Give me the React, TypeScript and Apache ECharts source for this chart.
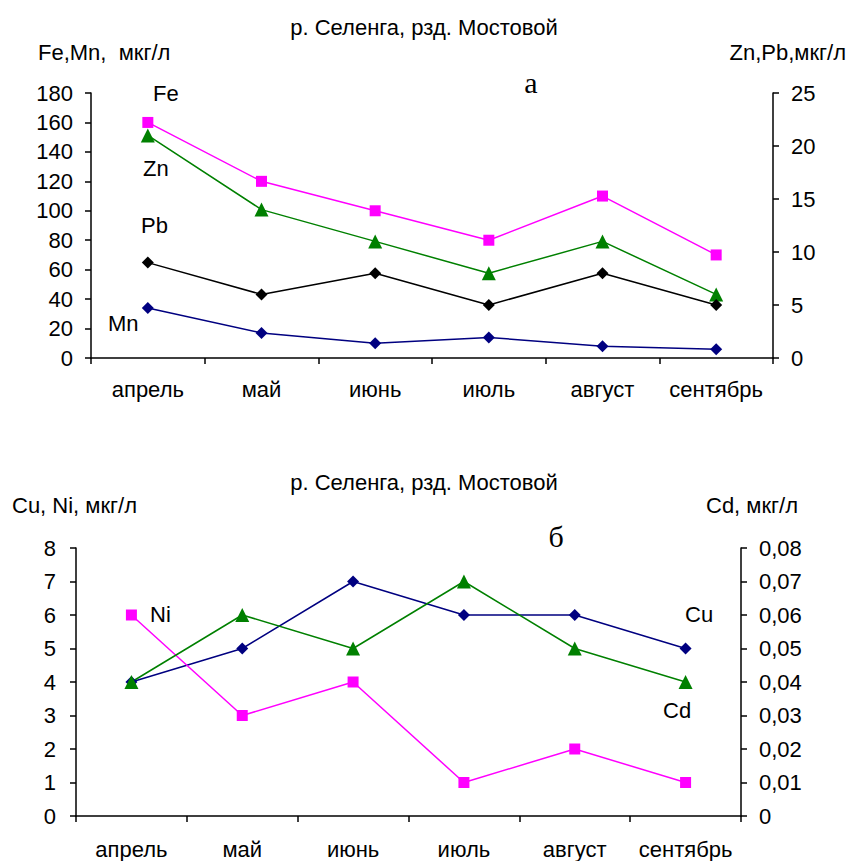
import React, { useEffect, useRef } from "react";
import * as echarts from "echarts";

const months = ["апрель", "май", "июнь", "июль", "август", "сентябрь"];
// panel а
const fe = [160, 120, 100, 80, 110, 70];
const mn = [34, 17, 10, 14, 8, 6];
const zn = [21, 14, 11, 8, 11, 6];
const pb = [9, 6, 8, 5, 8, 5];
// panel б
const cu = [4, 5, 7, 6, 6, 5];
const ni = [6, 3, 4, 1, 2, 1];
const cd = [0.04, 0.06, 0.05, 0.07, 0.05, 0.04];

const titleText = "р. Селенга, рзд. Мостовой";
const FONT = "'Liberation Sans', Arial, sans-serif";
const SERIF = "'Liberation Serif', 'Times New Roman', serif";
const FS = 22;

export default function App() {
  const ref = useRef<HTMLDivElement>(null);
  useEffect(() => {
    if (!ref.current) return;
    const chart = echarts.init(ref.current, undefined, { renderer: "svg" });
    const axisLine = { show: true, lineStyle: { color: "#000", width: 1.5 } };
    const axisTick = { show: true, inside: false, length: 6, lineStyle: { color: "#000", width: 1.5 } };
    const lbl = { color: "#000", fontSize: FS, fontFamily: FONT };
    const xAxisBase = (gridIndex: number, margin: number) => ({
      type: "category",
      gridIndex,
      data: months,
      boundaryGap: true,
      axisLine,
      axisTick: { ...axisTick, alignWithLabel: false },
      axisLabel: { ...lbl, margin, interval: 0 },
      splitLine: { show: false },
    });
    const yAxisBase = (
      gridIndex: number,
      position: string,
      min: number,
      max: number,
      interval: number,
      margin: number,
      formatter?: any
    ) => ({
      type: "value",
      gridIndex,
      position,
      min,
      max,
      interval,
      axisLine,
      axisTick,
      axisLabel: { ...lbl, margin, formatter },
      splitLine: { show: false },
    });
    const line = (
      name: string,
      data: number[],
      color: string,
      symbol: string,
      symbolSize: number,
      xAxisIndex: number,
      yAxisIndex: number
    ) => ({
      type: "line",
      name,
      data,
      xAxisIndex,
      yAxisIndex,
      symbol,
      symbolSize,
      showAllSymbol: true,
      itemStyle: { color },
      lineStyle: { color, width: 1.5 },
      emphasis: { disabled: true },
    });
    const txt = (text: string, x: number, y: number, extra: any = {}) => ({
      type: "text",
      x,
      y,
      style: {
        text,
        fill: "#000",
        font: `${FS}px ${FONT}`,
        verticalAlign: "middle",
        textAlign: "left",
        ...extra,
      },
    });
    const titleStyle = { color: "#000", fontSize: FS, fontWeight: "normal", fontFamily: FONT };
    chart.setOption({
      animation: false,
      backgroundColor: "#fff",
      title: [
        { text: titleText, left: "center", top: 11, textStyle: titleStyle },
        { text: titleText, left: "center", top: 466, textStyle: titleStyle },
      ],
      grid: [
        { left: 91, right: 75, top: 93, height: 265 },
        { left: 76, right: 107, top: 548, height: 268 },
      ],
      xAxis: [xAxisBase(0, 20), xAxisBase(1, 22)],
      yAxis: [
        yAxisBase(0, "left", 0, 180, 20, 18),
        yAxisBase(0, "right", 0, 25, 5, 18),
        yAxisBase(1, "left", 0, 8, 1, 20),
        yAxisBase(1, "right", 0, 0.08, 0.01, 18, (v: number) =>
          v === 0 ? "0" : v.toFixed(2).replace(".", ",")
        ),
      ],
      series: [
        line("Fe", fe, "#ff00ff", "rect", 11, 0, 0),
        line("Zn", zn, "#008000", "triangle", 14, 0, 1),
        line("Pb", pb, "#000000", "diamond", 12, 0, 1),
        line("Mn", mn, "#000080", "diamond", 12, 0, 0),
        line("Cu", cu, "#000080", "diamond", 12, 1, 2),
        line("Ni", ni, "#ff00ff", "rect", 11, 1, 2),
        line("Cd", cd, "#008000", "triangle", 14, 1, 3),
      ],
      graphic: [
        txt("Fe,Mn,  мкг/л", 38, 52),
        txt("Zn,Pb,мкг/л", 846, 52, { textAlign: "right" }),
        txt("а", 531, 82, { font: `30px ${SERIF}`, textAlign: "center" }),
        txt("Fe", 153, 93),
        txt("Zn", 143, 168),
        txt("Pb", 141, 225),
        txt("Mn", 108, 323),
        txt("Cu, Ni, мкг/л", 12, 505),
        txt("Cd, мкг/л", 706, 505),
        txt("б", 556, 536, { font: `30px ${SERIF}`, textAlign: "center" }),
        txt("Ni", 150, 614),
        txt("Cu", 685, 614),
        txt("Cd", 663, 710),
      ],
    });
    return () => chart.dispose();
  }, []);
  return (
    <div
      ref={ref}
      style={{ position: "absolute", left: 0, top: 0, width: 848, height: 861 }}
    />
  );
}
